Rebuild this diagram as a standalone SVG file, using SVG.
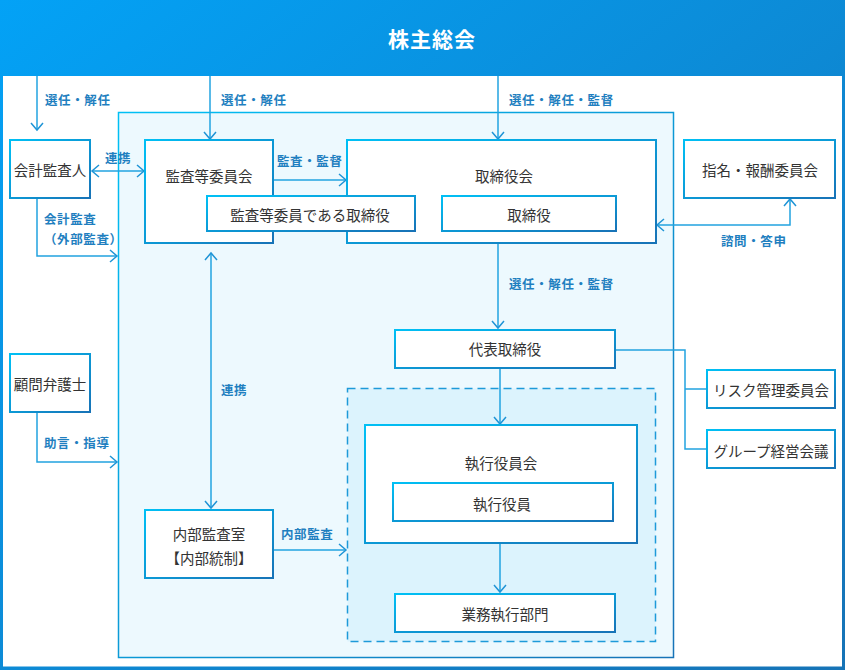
<svg xmlns="http://www.w3.org/2000/svg" width="845" height="670" viewBox="0 0 845 670">
<defs>
<linearGradient id="frameG" x1="0" y1="0" x2="1" y2="1">
<stop offset="0" stop-color="#03a2f6"/>
<stop offset="1" stop-color="#1673b6"/>
</linearGradient>
<linearGradient id="boxG" x1="0" y1="0" x2="1" y2="1">
<stop offset="0" stop-color="#00c0f5"/>
<stop offset="1" stop-color="#1773b7"/>
</linearGradient>
<marker id="arr" markerUnits="userSpaceOnUse" markerWidth="16" markerHeight="16" viewBox="-9 -8 10 16" refX="0" refY="0" orient="auto-start-reverse">
<path d="M-7,-6 L0,0 L-7,6" fill="none" stroke="#1f94d6" stroke-width="1.5"/>
</marker>
<style>
.box{fill:#fff;stroke:url(#boxG);stroke-width:2}
.t{font-family:"Noto Sans CJK JP","Noto Sans",sans-serif;font-size:14.5px;fill:#333;text-anchor:middle;dominant-baseline:central}
.l{font-family:"Noto Sans CJK JP","Noto Sans",sans-serif;font-size:12.5px;font-weight:bold;fill:#1f7fc0;letter-spacing:0.6px}
.c{fill:none;stroke:#22a3e0;stroke-width:1.5}
.a{marker-end:url(#arr)}
.d{marker-start:url(#arr);marker-end:url(#arr)}
</style>
</defs>
<rect x="0" y="0" width="845" height="670" fill="url(#frameG)"/>
<rect x="3" y="76" width="839" height="590.5" fill="#fff"/>
<text x="432" y="38" font-family="'Noto Sans CJK JP','Noto Sans',sans-serif" font-size="21" font-weight="bold" fill="#fff" text-anchor="middle" dominant-baseline="central" letter-spacing="1">株主総会</text>

<g id="region-main"><rect x="118.5" y="112.5" width="555" height="545" fill="#edf9fe" stroke="url(#boxG)" stroke-width="1.5"/></g>
<g id="region-exec"><rect x="347.5" y="388.5" width="308" height="253" fill="#dcf3fd" stroke="#1e9ad9" stroke-width="1.5" stroke-dasharray="8,5"/></g>

<g id="connectors">
<path class="c a" d="M37,76 V130"/>
<path class="c a" d="M210,76 V139"/>
<path class="c a" d="M498,76 V139"/>
<path class="c d" d="M92,171 H144"/>
<path class="c a" d="M37,199 V256 H117"/>
<path class="c a" d="M274,180 H346"/>
<path class="c d" d="M211,253 V508"/>
<path class="c d" d="M790,199 V225 H657"/>
<path class="c a" d="M498,244 V328"/>
<path class="c a" d="M500,369 V424"/>
<path class="c" d="M616,350 H685 V449 H706 M685,389 H706"/>
<path class="c a" d="M37,413 V462 H117"/>
<path class="c a" d="M274,550 H346"/>
<path class="c a" d="M500,544 V592"/>
<text class="l" x="45" y="105">選任・解任</text>
<text class="l" x="221" y="105">選任・解任</text>
<text class="l" x="509" y="105">選任・解任・監督</text>
<text class="l" x="105" y="163">連携</text>
<text class="l" x="277" y="166">監査・監督</text>
<text class="l" x="44" y="224">会計監査</text>
<text class="l" x="44" y="244">（外部監査）</text>
<text class="l" x="721" y="246">諮問・答申</text>
<text class="l" x="509" y="289">選任・解任・監督</text>
<text class="l" x="221" y="395">連携</text>
<text class="l" x="44" y="448">助言・指導</text>
<text class="l" x="281" y="539">内部監査</text>
</g>

<g id="n-auditor"><rect class="box" x="10" y="140" width="80" height="58"/><text class="t" x="50" y="169">会計監査人</text></g>
<g id="n-audit-committee"><rect class="box" x="145" y="140" width="128" height="103"/><text class="t" x="209" y="175">監査等委員会</text></g>
<g id="n-board"><rect class="box" x="347" y="140" width="309" height="103"/><text class="t" x="504" y="175">取締役会</text></g>
<g id="n-audit-director"><rect class="box" x="207" y="196" width="208" height="35"/><text class="t" x="310" y="214">監査等委員である取締役</text></g>
<g id="n-director"><rect class="box" x="442" y="196" width="174" height="35"/><text class="t" x="529" y="214">取締役</text></g>
<g id="n-nomination"><rect class="box" x="684" y="140" width="151" height="58"/><text class="t" x="760" y="169">指名・報酬委員会</text></g>
<g id="n-lawyer"><rect class="box" x="10" y="354" width="80" height="58"/><text class="t" x="50" y="383">顧問弁護士</text></g>
<g id="n-ceo"><rect class="box" x="395" y="330" width="220" height="38"/><text class="t" x="505" y="348">代表取締役</text></g>
<g id="n-risk"><rect class="box" x="707" y="370" width="128" height="38"/><text class="t" x="771" y="389">リスク管理委員会</text></g>
<g id="n-group"><rect class="box" x="707" y="430" width="128" height="38"/><text class="t" x="771" y="450">グループ経営会議</text></g>
<g id="n-exec-board"><rect class="box" x="365" y="425" width="272" height="118"/><text class="t" x="501" y="462">執行役員会</text></g>
<g id="n-exec"><rect class="box" x="393" y="483" width="220" height="38"/><text class="t" x="502" y="503">執行役員</text></g>
<g id="n-internal-audit"><rect class="box" x="145" y="510" width="128" height="68"/><text class="t" x="209" y="533">内部監査室</text><text class="t" x="209" y="557">【内部統制】</text></g>
<g id="n-business"><rect class="box" x="395" y="594" width="220" height="38"/><text class="t" x="505" y="613">業務執行部門</text></g>
</svg>
